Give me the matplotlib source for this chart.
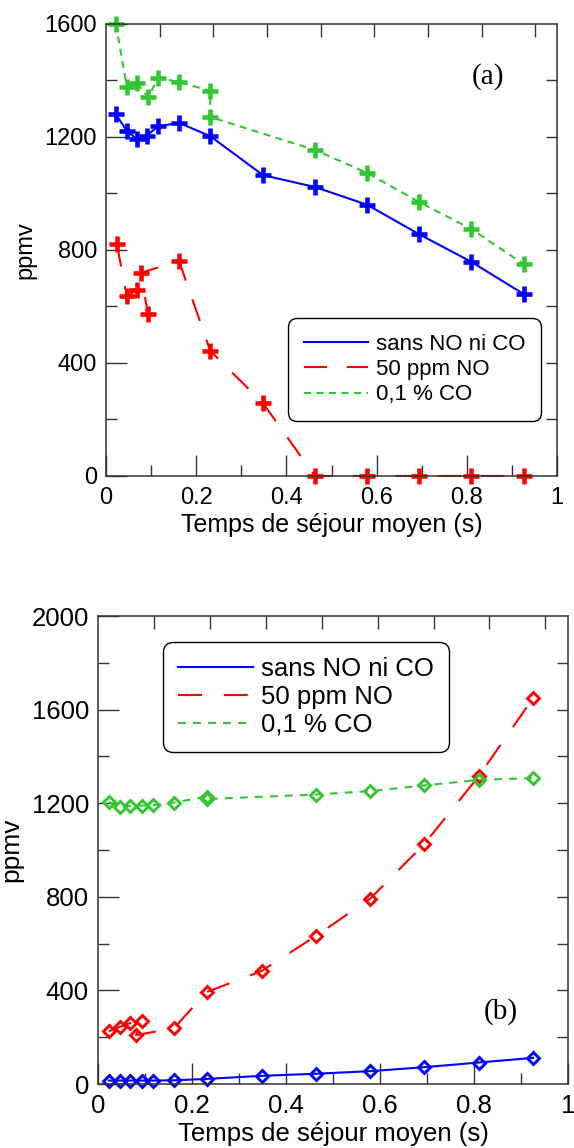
import matplotlib
matplotlib.use('Agg')
import matplotlib.pyplot as plt
from matplotlib.ticker import MultipleLocator

plt.rcParams['font.family'] = ['Liberation Sans', 'DejaVu Sans']

# ---- data, panel (a) ----
x_a_blue = [0.022, 0.046, 0.068, 0.090, 0.116, 0.162, 0.231, 0.348, 0.463, 0.579, 0.694, 0.810, 0.926]
y_a_blue = [1280, 1222, 1193, 1205, 1238, 1250, 1203, 1065, 1023, 960, 856, 758, 644]
x_a_red = [0.024, 0.046, 0.068, 0.093, 0.077, 0.162, 0.231, 0.348, 0.463, 0.579, 0.694, 0.810, 0.926]
y_a_red = [821, 637, 658, 573, 719, 761, 443, 258, 0, 0, 0, 0, 0]
x_a_green = [0.022, 0.046, 0.068, 0.093, 0.116, 0.162, 0.231, 0.231, 0.463, 0.579, 0.694, 0.810, 0.926]
y_a_green = [1600, 1377, 1392, 1341, 1408, 1395, 1363, 1271, 1154, 1073, 970, 874, 750]

# ---- data, panel (b) ----
x_b_blue = [0.023, 0.046, 0.069, 0.093, 0.116, 0.162, 0.231, 0.348, 0.463, 0.579, 0.694, 0.810, 0.926]
y_b_blue = [15, 15, 15, 15, 15, 16, 22, 35, 44, 55, 72, 92, 112]
x_b_red = [0.023, 0.046, 0.069, 0.093, 0.081, 0.162, 0.231, 0.348, 0.463, 0.579, 0.694, 0.810, 0.926]
y_b_red = [226, 244, 261, 269, 209, 239, 393, 483, 632, 792, 1025, 1315, 1650]
x_b_green = [0.023, 0.046, 0.069, 0.093, 0.116, 0.162, 0.231, 0.231, 0.463, 0.579, 0.694, 0.810, 0.926]
y_b_green = [1205, 1186, 1188, 1190, 1192, 1203, 1228, 1218, 1237, 1252, 1276, 1300, 1307]

labels = ['sans NO ni CO', '50 ppm NO', '0,1 % CO']
top_ticks = [0.119, 0.238, 0.357, 0.476, 0.595, 0.714, 0.833, 0.952]

BLUE = '#0000ff'
RED = '#ff0000'
GREEN = '#33c633'
SPINE = '#333333'


def style_axes(ax, ymax, tick_fs, right_ticks, xpad):
    ax.set_xlim(0, 1)
    ax.set_ylim(0, ymax)
    ax.xaxis.set_major_locator(MultipleLocator(0.2))
    ax.xaxis.set_minor_locator(MultipleLocator(0.1))
    ax.yaxis.set_major_locator(MultipleLocator(400))
    ax.yaxis.set_minor_locator(MultipleLocator(200))
    ax.xaxis.set_major_formatter(plt.FuncFormatter(lambda v, p: f'{v:g}'))
    ax.tick_params(which='major', direction='in', length=15, width=1, color=SPINE,
                   labelsize=tick_fs, top=False, right=False)
    ax.tick_params(axis='x', which='major', pad=xpad)
    ax.tick_params(axis='y', which='major', pad=6.5)
    ax.tick_params(which='minor', direction='in', length=8, width=1, color=SPINE,
                   top=False, right=False)
    for sp in ax.spines.values():
        sp.set_color(SPINE)
        sp.set_linewidth(1.1)
    sec = ax.secondary_xaxis('top')
    sec.set_xticks(top_ticks)
    sec.tick_params(direction='in', length=9, width=1, color=SPINE, labeltop=False)
    sec.spines['top'].set_visible(False)
    secy = ax.secondary_yaxis('right')
    secy.set_yticks(right_ticks)
    secy.tick_params(direction='in', length=8, width=1, color=SPINE, labelright=False)
    secy.spines['right'].set_visible(False)


def add_legend(ax, dashes, anchor, fs, labelspacing, borderpad, textpad):
    handles = [plt.Line2D([], [], color=c, lw=1.5, dashes=d)
               for c, d in zip([BLUE, RED, GREEN], dashes)]
    leg = ax.legend(handles, labels, loc='upper left', bbox_to_anchor=anchor,
                    borderaxespad=0, fontsize=fs, handlelength=2.9,
                    handletextpad=textpad, labelspacing=labelspacing,
                    borderpad=borderpad, fancybox=True, framealpha=1,
                    edgecolor='black')
    leg.get_frame().set_linewidth(1.0)
    leg.get_frame().set_boxstyle('round,pad=0,rounding_size=0.4')
    return leg


fig = plt.figure(figsize=(5.74, 11.48), dpi=100)

# ---------------- panel (a) ----------------
ax1 = fig.add_axes([0.1847, 0.5854, 0.7857, 0.3937])
dash_a = [(None, None), (11, 9.5), (3.4, 2.6)]
pk = dict(marker='+', markersize=11, markeredgewidth=3.3, clip_on=False)
ax1.plot(x_a_blue, y_a_blue, color=BLUE, lw=1.5, **pk)
ax1.plot(x_a_red, y_a_red, color=RED, lw=1.5, dashes=dash_a[1], **pk)
ax1.plot(x_a_green, y_a_green, color=GREEN, lw=1.5, dashes=dash_a[2], **pk)
style_axes(ax1, 1600, 17, list(range(200, 1600, 200)), 8)
ax1.set_xlabel('Temps de séjour moyen (s)', fontsize=18, labelpad=3)
ax1.set_ylabel('ppmv', fontsize=17, labelpad=6)
ax1.text(0.847, 0.883, '(a)', transform=ax1.transAxes, fontsize=21,
         family='Liberation Serif', ha='center', va='center')
add_legend(ax1, dash_a, (0.4035, 0.3496), 16, 0.2, 0.7, 0.35)

# ---------------- panel (b) ----------------
ax2 = fig.add_axes([0.1707, 0.0557, 0.8188, 0.4077])
dash_b = [(None, None), (11.5, 10.5), (3.8, 3.4)]
dk = dict(marker='D', markersize=6.5, markeredgewidth=2.1, markerfacecolor='none', clip_on=False)
ax2.plot(x_b_blue, y_b_blue, color=BLUE, lw=1.5, **dk)
ax2.plot(x_b_red, y_b_red, color=RED, lw=1.5, dashes=dash_b[1], **dk)
ax2.plot(x_b_green, y_b_green, color=GREEN, lw=1.5, dashes=dash_b[2], **dk)
style_axes(ax2, 2000, 18.5, list(range(200, 2000, 200)), 7)
ax2.set_xlabel('Temps de séjour moyen (s)', fontsize=18.5, labelpad=3)
ax2.set_ylabel('ppmv', fontsize=19, labelpad=6)
ax2.text(0.857, 0.156, '(b)', transform=ax2.transAxes, fontsize=21,
         family='Liberation Serif', ha='center', va='center')
add_legend(ax2, dash_b, (0.1383, 0.9444), 18.5, 0.14, 0.6, 0.3)

fig.savefig('out.png', dpi=100)
